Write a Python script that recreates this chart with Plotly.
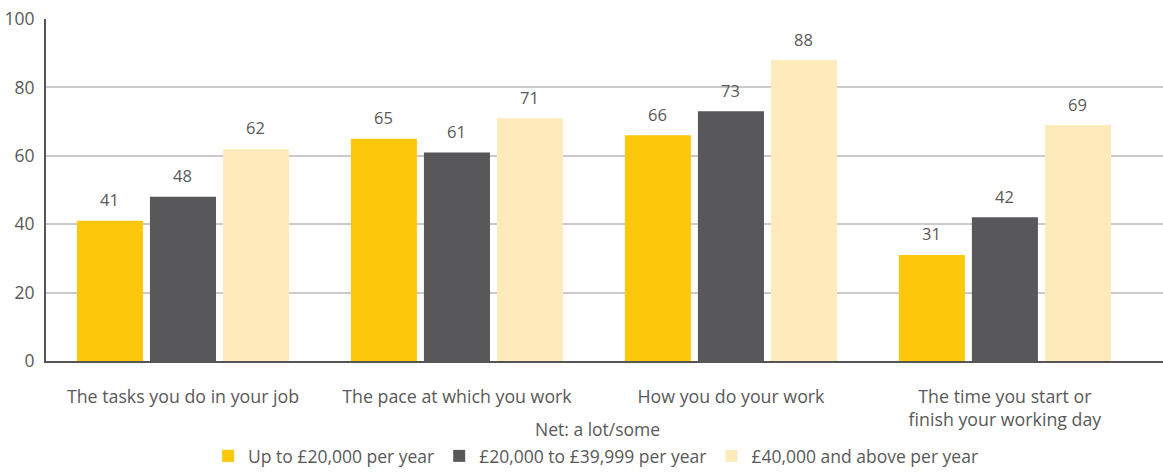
import plotly.graph_objects as go

# Share reporting "a lot/some" influence, by annual earnings band
categories = [
    "The tasks you do in your job",
    "The pace at which you work",
    "How you do your work",
    "The time you start or<br>finish your working day",
]
band_low = [41, 65, 66, 31]
band_mid = [48, 61, 73, 42]
band_high = [62, 71, 88, 69]

series = [
    ("Up to £20,000 per year", band_low, "#FDC70C"),
    ("£20,000 to £39,999 per year", band_mid, "#58585A"),
    ("£40,000 and above per year", band_high, "#FEEABB"),
]

FONT = "Open Sans"
TEXT = "#595959"
SLOT_PX = 73  # horizontal distance between neighbouring bars in a group

fig = go.Figure()
annotations = []
for i, (name, vals, color) in enumerate(series):
    fig.add_trace(go.Bar(
        x=categories, y=vals, name=name,
        marker=dict(color=color, line=dict(width=0)),
    ))
    # value labels sit a little above each bar top
    for cat, v in zip(categories, vals):
        annotations.append(dict(
            x=cat, y=v, xref="x", yref="y", text=str(v),
            showarrow=False, xanchor="center", yanchor="middle",
            xshift=(i - 1) * SLOT_PX, yshift=21,
            font=dict(family=FONT, size=16.5, color=TEXT),
        ))

annotations.append(dict(
    text="Net: a lot/some", xref="paper", yref="paper",
    x=0.494, y=-0.198, xanchor="center", yanchor="middle",
    showarrow=False, font=dict(family=FONT, size=17.5, color=TEXT),
))

fig.update_layout(
    width=1163, height=474,
    margin=dict(l=46, r=0, t=19, b=111),
    paper_bgcolor="white", plot_bgcolor="white",
    barmode="group", bargap=0.2, bargroupgap=0.096,
    font=dict(family=FONT, size=16, color=TEXT),
    showlegend=True,
    legend=dict(
        orientation="h", xanchor="center", yanchor="middle",
        x=0.492, y=-0.279, itemwidth=30,
        font=dict(family=FONT, size=17.5, color=TEXT),
        traceorder="normal", itemclick=False,
    ),
    annotations=annotations,
)

fig.update_xaxes(
    range=[-0.5, 3.577], showgrid=False,
    showline=True, linecolor="#555555", linewidth=2,
    tickfont=dict(family=FONT, size=17.8, color=TEXT),
    ticklabelstandoff=19,
)
fig.update_yaxes(
    range=[0, 100], tickvals=[0, 20, 40, 60, 80, 100],
    showgrid=True, gridcolor="#CACACA", gridwidth=1.5,
    zeroline=False,
    showline=True, linecolor="#555555", linewidth=2,
    tickfont=dict(family=FONT, size=17.5, color=TEXT),
    ticklabelstandoff=6,
)

fig.write_html("out.html")
